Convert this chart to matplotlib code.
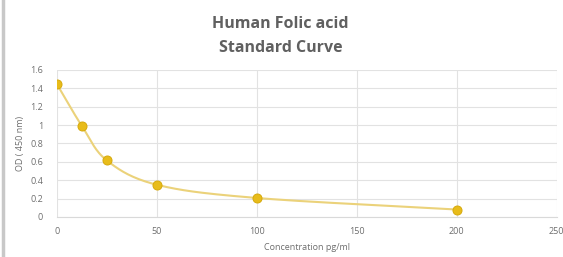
import numpy as np
import matplotlib
matplotlib.use("Agg")
import matplotlib.pyplot as plt
from matplotlib.lines import Line2D

conc = [0, 12.5, 25, 50, 100, 200]
od = [1.446, 0.99, 0.614, 0.35, 0.206, 0.08]
xticks = [0, 50, 100, 150, 200, 250]
yticks = [0, 0.2, 0.4, 0.6, 0.8, 1, 1.2, 1.4, 1.6]
ytick_labels = ["0", "0.2", "0.4", "0.6", "0.8", "1", "1.2", "1.4", "1.6"]

def catmull_rom(xs, ys, n=30):
    xs = np.asarray(xs, float); ys = np.asarray(ys, float)
    P = np.column_stack([xs, ys])
    P = np.vstack([P[0] + (P[0] - P[1]), P, P[-1] + (P[-1] - P[-2])])
    out = []
    for i in range(1, len(P) - 2):
        p0, p1, p2, p3 = P[i-1], P[i], P[i+1], P[i+2]
        t = np.linspace(0, 1, n)[:, None]
        seg = 0.5 * ((2*p1) + (-p0 + p2)*t + (2*p0 - 5*p1 + 4*p2 - p3)*t**2
                     + (-p0 + 3*p1 - 3*p2 + p3)*t**3)
        out.append(seg)
    out = np.vstack(out)
    return out[:, 0], out[:, 1]

plt.rcParams['font.family'] = ['Open Sans', 'DejaVu Sans']
fig = plt.figure(figsize=(5.63, 2.57), dpi=100)
ax = fig.add_axes([0.101, 0.156, 0.888, 0.572])

sx, sy = catmull_rom(conc, od)
ax.plot(sx, sy, color='#EBD27A', lw=1.5, zorder=3)
ax.plot(conc, od, 'o', ms=6.5, color='#E8BC1A', mec='#D6A90A', mew=0.7, zorder=4)

ax.set_xlim(0, 250)
ax.set_ylim(0, 1.6)
ax.set_xticks(xticks)
ax.set_yticks(yticks)
ax.set_yticklabels(ytick_labels)
ax.grid(True, color='#E2E2E2', lw=0.8)
ax.set_axisbelow(True)
for s in ['top', 'right', 'left']:
    ax.spines[s].set_visible(False)
ax.spines['bottom'].set_color('#D9D9D9')
ax.tick_params(length=0, labelsize=6.5, colors='#6E6E6E', pad=7)
ax.tick_params(axis='y', pad=10)
ax.set_xlabel('Concentration pg/ml', fontsize=6.5, color='#6E6E6E', labelpad=5)
ax.set_ylabel('OD ( 450 nm)', fontsize=6.5, color='#6E6E6E', labelpad=4)

fig.text(0.498, 0.905, 'Human Folic acid', ha='center', va='center',
         fontsize=11.5, fontweight='bold', color='#606060')
fig.text(0.498, 0.812, 'Standard Curve', ha='center', va='center',
         fontsize=11.5, fontweight='bold', color='#606060')

fig.add_artist(Line2D([0.006, 0.006], [0, 1], transform=fig.transFigure,
                      color='#C8C8C8', lw=2.5))

fig.savefig('out.png', dpi=100)
